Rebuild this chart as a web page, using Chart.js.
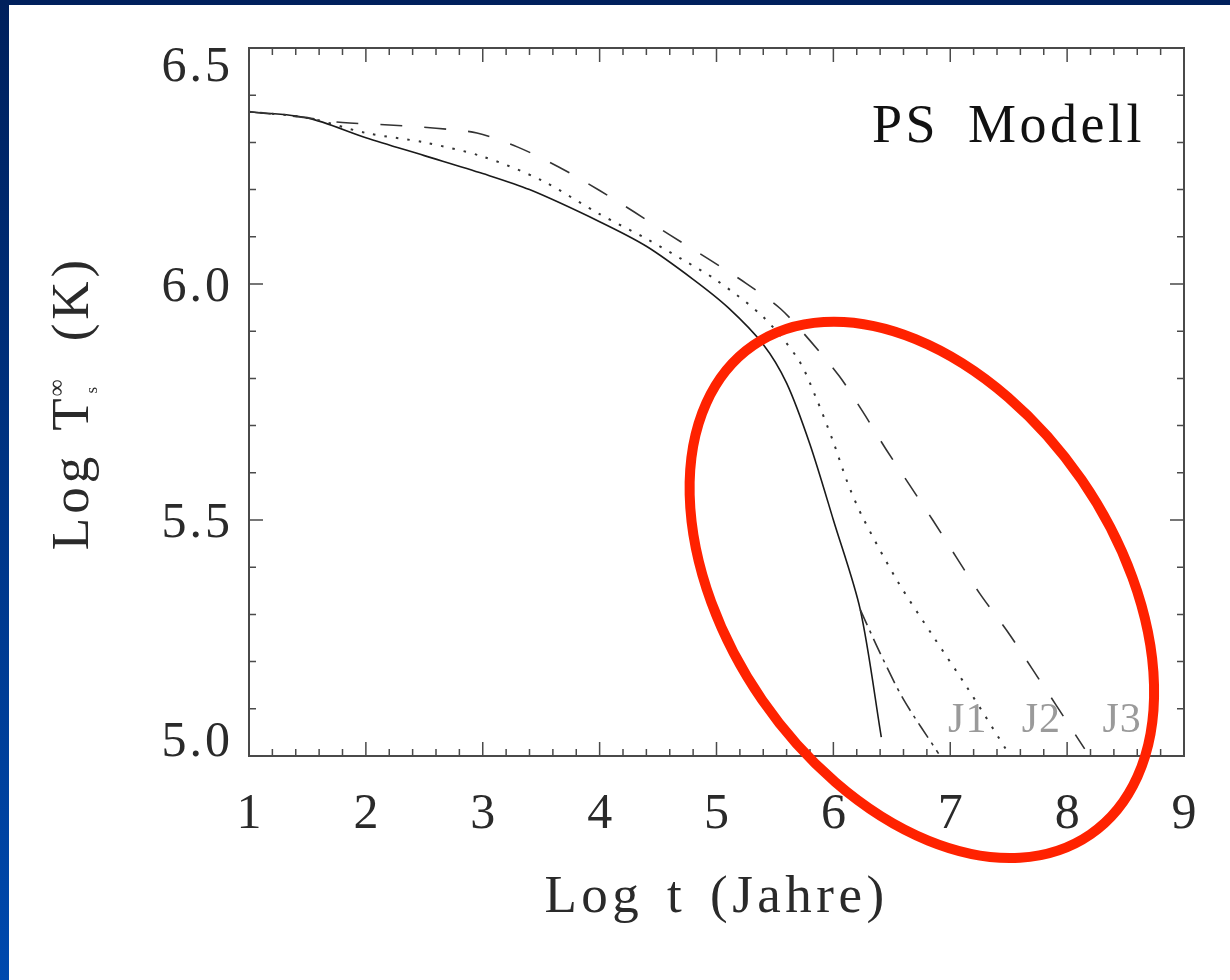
<!DOCTYPE html>
<html>
<head>
<meta charset="utf-8">
<title>PS Modell</title>
<script src="https://cdn.jsdelivr.net/npm/chart.js@4.4.1/dist/chart.umd.min.js"></script>
<style>
body{
    margin:0;
    width:1230px;
    height:980px;
    overflow:hidden;
    background:linear-gradient(to bottom,#00205c,#0049ae);
}
#panel{
    position:absolute;
    left:9px;
    top:5px;
    width:1221px;
    height:975px;
    background:#fff;
}
</style>
</head>
<body>
<div id="panel"><canvas id="chart" width="1221" height="975"></canvas></div>
<script>

// axes
const xTickValues = [1, 2, 3, 4, 5, 6, 7, 8, 9];
const xTickLabels = ["1", "2", "3", "4", "5", "6", "7", "8", "9"];
const yTickValues = [5.0, 5.5, 6.0, 6.5];
const yTickLabels = ["5.0", "5.5", "6.0", "6.5"];

// curves (log t, log Ts)
const solidX = [1.0, 1.5, 2.0, 2.5, 3.0, 3.4, 4.0, 4.4, 4.8, 5.1, 5.4, 5.6, 5.8, 6.0, 6.23, 6.41];
const solidY = [6.365, 6.352, 6.31, 6.272, 6.234, 6.2, 6.132, 6.08, 6.01, 5.95, 5.872, 5.79, 5.66, 5.50, 5.31, 5.04];

const dotX = [1.0, 1.5, 2.0, 2.5, 3.0, 3.5, 4.0, 4.4, 4.7, 5.0, 5.4, 5.7, 5.85, 6.0, 6.12, 6.25, 6.55, 6.85, 7.15, 7.5];
const dotY = [6.365, 6.352, 6.32, 6.30, 6.27, 6.22, 6.148, 6.096, 6.053, 6.008, 5.93, 5.84, 5.76, 5.665, 5.58, 5.506, 5.37, 5.255, 5.143, 5.005];

const dashX = [1.0, 1.5, 1.8, 2.2, 2.6, 2.95, 3.3, 3.65, 4.0, 4.3, 4.6, 4.95, 5.25, 5.55, 5.8, 6.05, 6.25, 6.45, 6.65, 6.85, 7.05, 7.25, 7.5, 7.7, 7.9, 8.15];
const dashY = [6.365, 6.352, 6.342, 6.337, 6.33, 6.32, 6.29, 6.248, 6.198, 6.152, 6.104, 6.05, 6.002, 5.947, 5.88, 5.805, 5.73, 5.65, 5.575, 5.5, 5.422, 5.345, 5.26, 5.185, 5.11, 5.015];

const dashDotX = [6.23, 6.4, 6.6, 6.9];
const dashDotY = [5.31, 5.218, 5.12, 5.005];

// curve names and where they sit
const curveLabels = ["J1", "J2", "J3"];
const curveLabelX = [7.15, 7.78, 8.47];
const curveLabelY = 5.05;

const modelName = "PS Modell";
const modelNameX = 6.33;
const modelNameY = 6.30;

// red ring (centre in data units)
const ringX = 6.757;
const ringY = 5.352;

const serif = "'Liberation Serif', 'DejaVu Serif', serif";

function pts(xs, ys){
    return xs.map(function(x, i){
        return { x: x, y: ys[i] };
    });
}

function lineSet(data, dash, width, color){
    return {
        data: data,
        borderColor: color,
        borderWidth: width,
        borderDash: dash,
        borderCapStyle: "butt",
        pointRadius: 0,
        fill: false,
        tension: 0.3
    };
}

const framePlugin = {

    id: "frame",

    afterDatasetsDraw(chart){

        const ctx = chart.ctx;
        const a = chart.chartArea;
        const xs = chart.scales.x;
        const ys = chart.scales.y;

        ctx.save();

        // box
        ctx.strokeStyle = "#4a4a4a";
        ctx.lineWidth = 2;
        ctx.strokeRect(a.left, a.top, a.right - a.left, a.bottom - a.top);

        // inward ticks on all four sides
        ctx.lineWidth = 1.5;
        ctx.beginPath();

        for(let i = 0; i <= 40; i++){
            const px = xs.getPixelForValue(1 + i * 0.2);
            const len = (i % 5 === 0) ? 14 : 7;
            ctx.moveTo(px, a.bottom);
            ctx.lineTo(px, a.bottom - len);
            ctx.moveTo(px, a.top);
            ctx.lineTo(px, a.top + len);
        }

        for(let i = 0; i <= 15; i++){
            const py = ys.getPixelForValue(5 + i * 0.1);
            const len = (i % 5 === 0) ? 14 : 7;
            ctx.moveTo(a.left, py);
            ctx.lineTo(a.left + len, py);
            ctx.moveTo(a.right, py);
            ctx.lineTo(a.right - len, py);
        }

        ctx.stroke();

        // y tick labels, kept inside the axis range like the original
        ctx.fillStyle = "#2a2a2a";
        ctx.font = "50px " + serif;
        ctx.letterSpacing = "3px";
        ctx.textAlign = "right";
        ctx.textBaseline = "alphabetic";

        yTickValues.forEach(function(v, i){
            let base = ys.getPixelForValue(v) + 16.5;
            base = Math.max(base, a.top + 33);
            base = Math.min(base, a.bottom);
            ctx.fillText(yTickLabels[i], a.left - 16, base);
        });

        // curve names
        ctx.fillStyle = "#9a9a9a";
        ctx.font = "42px " + serif;
        ctx.letterSpacing = "1px";
        ctx.textAlign = "center";

        curveLabels.forEach(function(t, i){
            ctx.fillText(t, xs.getPixelForValue(curveLabelX[i]), ys.getPixelForValue(curveLabelY));
        });

        // model name
        ctx.fillStyle = "#111";
        ctx.font = "54px " + serif;
        ctx.letterSpacing = "3.5px";
        ctx.wordSpacing = "12px";
        ctx.textAlign = "left";
        ctx.fillText(modelName, xs.getPixelForValue(modelNameX), ys.getPixelForValue(modelNameY));

        // x axis title
        ctx.fillStyle = "#2a2a2a";
        ctx.font = "53px " + serif;
        ctx.letterSpacing = "4.5px";
        ctx.wordSpacing = "6px";
        ctx.textAlign = "center";
        ctx.fillText("Log t (Jahre)", (a.left + a.right) / 2, 907);

        // y axis title, with T sub s sup infinity
        ctx.save();
        ctx.translate(79, (a.top + a.bottom) / 2);
        ctx.rotate(-Math.PI / 2);
        ctx.textAlign = "left";
        ctx.wordSpacing = "0px";

        ctx.font = "53px " + serif;
        ctx.letterSpacing = "4px";
        const wLog = ctx.measureText("Log").width;
        const wT = ctx.measureText("T").width;
        const wK = ctx.measureText("(K)").width;
        ctx.font = "24px " + serif;
        const wInf = ctx.measureText("\u221E").width;

        const gap1 = 22;
        const gap2 = 34;
        const total = wLog + gap1 + wT + wInf + gap2 + wK;
        let x = -total / 2;

        ctx.font = "53px " + serif;
        ctx.letterSpacing = "4px";
        ctx.fillText("Log", x, 0);
        x += wLog + gap1;
        ctx.fillText("T", x, 0);
        x += wT - 2;

        ctx.letterSpacing = "0px";
        ctx.font = "24px " + serif;
        ctx.fillText("\u221E", x, -24);
        ctx.font = "17px " + serif;
        ctx.fillText("s", x + 3, 9);
        x += wInf + gap2;

        ctx.font = "53px " + serif;
        ctx.letterSpacing = "4px";
        ctx.fillText("(K)", x, 0);
        ctx.restore();

        // red ring
        ctx.strokeStyle = "#ff2200";
        ctx.lineWidth = 10;
        ctx.beginPath();
        ctx.ellipse(xs.getPixelForValue(ringX), ys.getPixelForValue(ringY), 297, 194, 55.4 * Math.PI / 180, 0, Math.PI * 2);
        ctx.stroke();

        ctx.restore();

    }

};

new Chart(document.getElementById("chart"), {

    type: "line",

    data: {
        datasets: [
            lineSet(pts(dashX, dashY), [22, 22], 1.6, "#333"),
            lineSet(pts(dotX, dotY), [2.5, 9], 2, "#333"),
            lineSet(pts(dashDotX, dashDotY), [17, 6, 3, 6], 1.6, "#333"),
            lineSet(pts(solidX, solidY), [], 1.6, "#1a1a1a")
        ]
    },

    options: {

        responsive: false,
        animation: false,
        events: [],

        layout: {
            padding: { top: 43, right: 46, bottom: 0, left: 0 }
        },

        plugins: {
            legend: { display: false },
            tooltip: { enabled: false }
        },

        scales: {

            x: {
                type: "linear",
                min: 1,
                max: 9,
                afterBuildTicks: function(scale){
                    scale.ticks = xTickValues.map(function(v){ return { value: v }; });
                },
                afterFit: function(scale){
                    scale.height = 224;
                },
                grid: { display: false },
                border: { display: false },
                ticks: {
                    color: "#2a2a2a",
                    padding: 21,
                    maxRotation: 0,
                    font: { family: serif, size: 50 },
                    callback: function(v, i){
                        return xTickLabels[i];
                    }
                }
            },

            y: {
                type: "linear",
                min: 5,
                max: 6.5,
                afterBuildTicks: function(scale){
                    scale.ticks = yTickValues.map(function(v){ return { value: v }; });
                },
                afterFit: function(scale){
                    scale.width = 240;
                },
                grid: { display: false },
                border: { display: false },
                ticks: { display: false }
            }

        }

    },

    plugins: [framePlugin]

});

</script>
</body>
</html>
